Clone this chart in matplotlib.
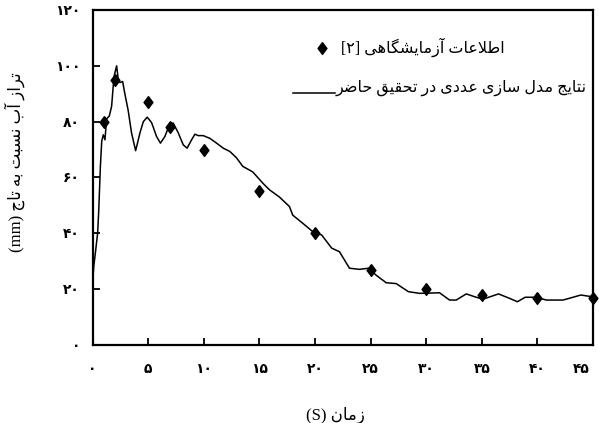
import matplotlib
matplotlib.use('Agg')
import numpy as np
import matplotlib.pyplot as plt
import matplotlib.transforms as mtransforms

# numerical model (water level vs. time)
t_model = [0, 0.1, 0.25, 0.45, 0.55, 0.7, 0.82, 0.96, 1.11, 1.26, 1.5, 1.71, 1.92,
           2.16, 2.31, 2.46, 2.7, 2.9, 3.2, 3.5, 3.87, 4.26, 4.56, 4.91, 5.3, 5.75,
           6.1, 6.5, 6.95, 7.25, 7.7, 8.15, 8.5, 8.9, 9.2, 9.5, 9.95, 10.55, 11.15,
           11.75, 12.35, 12.95, 13.5, 14.4, 15.3, 15.9, 16.8, 17.7, 18.0, 18.9, 19.8,
           20.6, 21.5, 22.2, 23.1, 24.0, 24.8, 25.5, 26.4, 27.3, 28.4, 29.4, 31.2,
           32.1, 32.7, 33.6, 34.5, 35.1, 36.5, 37.5, 38.2, 38.9, 39.9, 40.8, 42.3,
           43.2, 43.9, 44.9]
h_model = [22, 28, 33, 40, 48, 64, 73, 75.3, 73.5, 81, 82, 85.5, 96,
           100, 95, 94, 94.4, 90, 84, 76, 69.6, 76, 80, 81.6, 79.7, 74.7,
           72.3, 74.7, 79.3, 79.5, 76, 71.7, 70.5, 73.5, 75.5, 75, 75, 74, 72.3,
           70.5, 69.3, 67, 64, 62, 58, 55.6, 53, 49.6, 46.5, 43.6, 40.6,
           39.4, 34.7, 33.4, 27.5, 27.1, 27.5, 25, 22.3, 22, 19.1, 18.5, 18.7,
           16.1, 16.1, 18.3, 17.1, 16.4, 18.3, 16.7, 15.5, 17.1, 17.1, 16.1, 16.1,
           17.1, 17.9, 17.3]

# laboratory data [2]
t_lab = [1, 2, 5, 7, 10, 15, 20, 25, 30, 35, 40, 45]
h_lab = [80, 95, 87, 78, 70, 55, 40, 27, 20, 18, 17, 17]

x_ticks = list(range(0, 50, 5))
y_ticks = list(range(0, 140, 20))

# --- minimal Persian shaping (presentation forms + right-to-left order) ---
FORMS = {
    'ا': ('\uFE8D', '\uFE8E'), 'آ': ('\uFE81', '\uFE82'),
    'د': ('\uFEA9', '\uFEAA'), 'ر': ('\uFEAD', '\uFEAE'),
    'ز': ('\uFEAF', '\uFEB0'), 'و': ('\uFEED', '\uFEEE'),
    'ب': ('\uFE8F', '\uFE90', '\uFE91', '\uFE92'),
    'ت': ('\uFE95', '\uFE96', '\uFE97', '\uFE98'),
    'ج': ('\uFE9D', '\uFE9E', '\uFE9F', '\uFEA0'),
    'ح': ('\uFEA1', '\uFEA2', '\uFEA3', '\uFEA4'),
    'س': ('\uFEB1', '\uFEB2', '\uFEB3', '\uFEB4'),
    'ش': ('\uFEB5', '\uFEB6', '\uFEB7', '\uFEB8'),
    'ض': ('\uFEBD', '\uFEBE', '\uFEBF', '\uFEC0'),
    'ط': ('\uFEC1', '\uFEC2', '\uFEC3', '\uFEC4'),
    'ع': ('\uFEC9', '\uFECA', '\uFECB', '\uFECC'),
    'ق': ('\uFED5', '\uFED6', '\uFED7', '\uFED8'),
    'ل': ('\uFEDD', '\uFEDE', '\uFEDF', '\uFEE0'),
    'م': ('\uFEE1', '\uFEE2', '\uFEE3', '\uFEE4'),
    'ن': ('\uFEE5', '\uFEE6', '\uFEE7', '\uFEE8'),
    'ه': ('\uFEE9', '\uFEEA', '\uFEEB', '\uFEEC'),
    'ی': ('\uFBFC', '\uFBFD', '\uFBFE', '\uFBFF'),
    'گ': ('\uFB92', '\uFB93', '\uFB94', '\uFB95'),
}
LAM_ALEF = {'ا': ('\uFEFB', '\uFEFC'), 'آ': ('\uFEF5', '\uFEF6')}


def fa(s):
    out = []
    prev_dual = False
    i = 0
    while i < len(s):
        c = s[i]
        nxt = s[i + 1] if i + 1 < len(s) else ''
        if c == 'ل' and nxt in LAM_ALEF:
            out.append(LAM_ALEF[nxt][1 if prev_dual else 0])
            prev_dual = False
            i += 2
            continue
        if c in FORMS:
            f = FORMS[c]
            join_next = len(f) == 4 and nxt in FORMS
            if prev_dual and join_next:
                g = f[3]
            elif prev_dual:
                g = f[1]
            elif join_next:
                g = f[2]
            else:
                g = f[0]
            out.append(g)
            prev_dual = len(f) == 4
        else:
            out.append(c)
            prev_dual = False
        i += 1
    return ''.join(reversed(out))


def fa_num(v):
    return str(v).translate(str.maketrans('0123456789', '۰۱۲۳۴۵۶۷۸۹'))


fam = ['Liberation Serif', 'DejaVu Sans']
plt.rcParams['font.family'] = fam

fig = plt.figure(figsize=(5.99, 4.23), dpi=100)
ax = fig.add_axes([0.1546, 0.1844, 0.8354, 0.7920])

ax.plot(t_model, h_model, '-', color='black', lw=1.1)
diamond = [(0, 1), (0.75, 0), (0, -1), (-0.75, 0), (0, 1)]
ax.plot(t_lab, h_lab, linestyle='none', marker=diamond, markersize=8.5,
        color='black', clip_on=False, zorder=3)

ax.set_xlim(0, 45)
ax.set_ylim(0, 120)
ax.set_xticks(x_ticks)
ax.set_yticks(y_ticks)
ax.set_xticklabels([fa_num(v) for v in x_ticks], fontsize=10, fontweight='bold')
ax.set_yticklabels([fa_num(v) for v in y_ticks], fontsize=10, fontweight='bold')
ax.tick_params(direction='in', length=5, width=1.3)
ax.tick_params(axis='x', pad=13)
ax.tick_params(axis='y', pad=9)
for sp in ax.spines.values():
    sp.set_linewidth(1.6)

# pull the last x label back inside the figure
last = ax.get_xticklabels()[-1]
last.set_transform(last.get_transform() +
                   mtransforms.ScaledTranslation(-0.12, 0, fig.dpi_scale_trans))

ax.set_xlabel('(S) ' + fa('زمان'), fontsize=12)
ax.xaxis.set_label_coords(0.486, -0.185)
ax.set_ylabel('(mm) ' + fa('تراز آب نسبت به تاج'), fontsize=12)
ax.yaxis.set_label_coords(-0.135, 0.546)

# legend drawn by hand: symbol on the left, text right-aligned
ax.plot([0.458], [0.887], linestyle='none', marker=diamond, markersize=8.5,
        color='black', transform=ax.transAxes)
ax.text(0.824, 0.890, '[۲] ' + fa('اطلاعات آزمایشگاهی'), transform=ax.transAxes,
        ha='right', va='center', fontsize=11.5)
ax.plot([0.40, 0.485], [0.752, 0.752], '-', color='black', lw=1.1,
        transform=ax.transAxes)
ax.text(0.988, 0.768, fa('نتایج مدل سازی عددی در تحقیق حاضر'),
        transform=ax.transAxes, ha='right', va='center', fontsize=11.5)

fig.savefig('out.png', dpi=100)
